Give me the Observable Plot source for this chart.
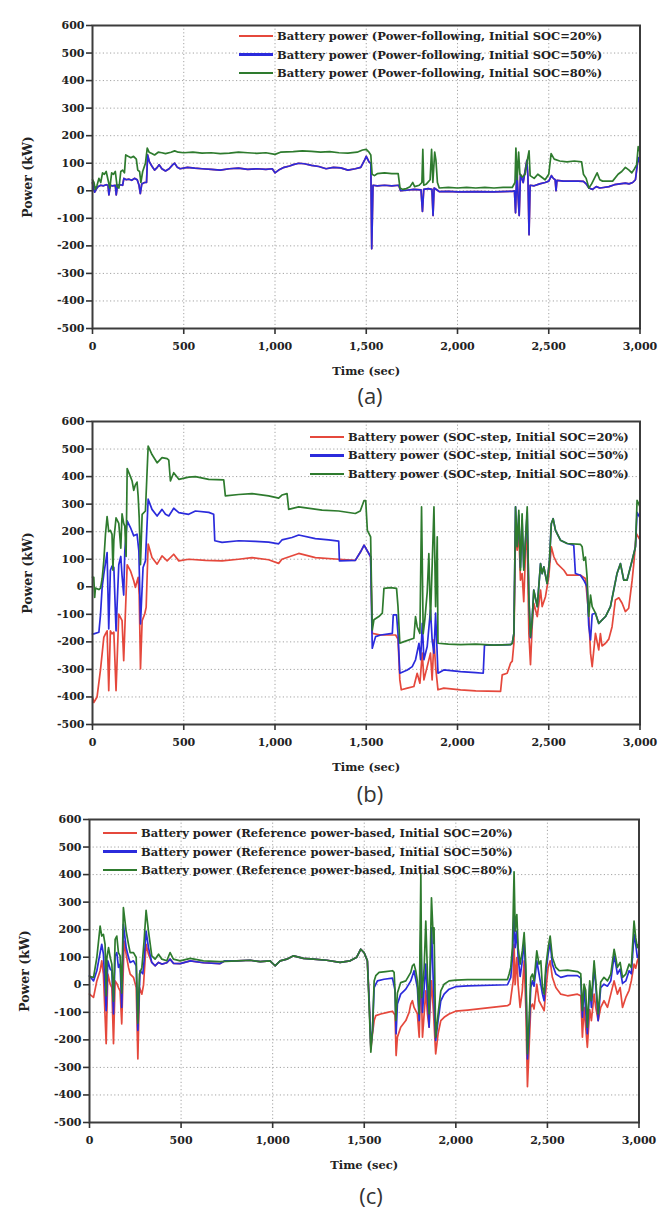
<!DOCTYPE html>
<html><head><meta charset="utf-8">
<script src="https://cdn.jsdelivr.net/npm/d3@7"></script>
<script src="https://cdn.jsdelivr.net/npm/@observablehq/plot@0.6"></script>
<style>
body{margin:0;background:#fff;width:672px;height:1226px;position:relative;overflow:hidden}
.panel{position:absolute;left:0;top:0}
.legend{position:absolute;font:bold 11.5px "DejaVu Serif";color:#222}
.legend .row{display:flex;align-items:center;white-space:nowrap}
.legend .sw{display:inline-block;width:34px;height:0;border-top:2px solid;margin-right:4px}
.cap{position:absolute;width:80px;text-align:center;font:22px "Open Sans";line-height:30px;color:#333}
</style></head>
<body>
<div id="pa" class="panel"></div>
<div id="pb" class="panel" style="top:396px"></div>
<div id="pc" class="panel" style="top:793.5px"></div>
<div class="cap" style="left:330px;top:380px">(a)</div>
<div class="cap" style="left:330px;top:778px">(b)</div>
<div class="cap" style="left:331px;top:1180px">(c)</div>
<script>
// ---------- axes ----------
const xTicks = [0, 500, 1000, 1500, 2000, 2500, 3000];
const yTicks = [-500, -400, -300, -200, -100, 0, 100, 200, 300, 400, 500, 600];
const seriesColors = ["#e5483c", "#2b2bdc", "#2e7b2e"];

// ---------- panel (a): Power-following ----------
const aLabels = [
  "Battery power (Power-following, Initial SOC=20%)",
  "Battery power (Power-following, Initial SOC=50%)",
  "Battery power (Power-following, Initial SOC=80%)"
];
const aBlue50 = [[0,30],[5,10],[12,-5],[20,5],[30,15],[45,20],[60,18],[75,22],[85,20],[90,-15],[97,20],[110,18],[125,20],[130,-15],[137,20],[150,22],[165,20],[172,45],[185,40],[200,42],[215,38],[230,45],[245,40],[255,20],[262,-10],[270,25],[285,30],[296,30],[302,130],[312,105],[325,90],[340,75],[355,85],[365,95],[380,80],[400,72],[420,80],[440,95],[450,100],[465,85],[480,80],[520,85],[560,82],[600,80],[650,78],[700,75],[750,80],[800,82],[850,78],[900,80],[950,78],[985,80],[1000,65],[1020,75],[1050,85],[1080,90],[1100,95],[1130,100],[1160,98],[1200,92],[1240,88],[1280,80],[1320,85],[1360,83],[1400,75],[1440,80],[1470,85],[1490,110],[1500,125],[1515,105],[1525,100],[1530,-210],[1537,20],[1560,18],[1600,20],[1640,18],[1678,20],[1688,0],[1720,2],[1760,5],[1800,3],[1808,-75],[1815,5],[1840,8],[1860,5],[1866,-90],[1872,10],[1890,2],[1900,-3],[1950,-2],[2000,-4],[2100,-3],[2200,-4],[2300,-2],[2312,0],[2318,-80],[2325,80],[2332,-20],[2338,-90],[2345,60],[2360,30],[2380,110],[2386,50],[2392,-160],[2398,20],[2420,18],[2450,25],[2480,30],[2500,35],[2515,55],[2525,45],[2535,40],[2540,0],[2545,38],[2580,35],[2620,35],[2660,35],[2690,34],[2705,25],[2720,10],[2740,5],[2760,15],[2780,10],[2800,12],[2830,15],[2860,22],[2890,25],[2920,28],[2940,25],[2960,30],[2975,40],[2990,120],[3000,100]];
// in this strategy the 20% curve lies exactly under the 50% curve
const aRed20 = aBlue50;
const aGreen80 = [[0,40],[8,30],[15,5],[25,20],[35,45],[45,30],[55,65],[65,60],[75,70],[85,40],[95,10],[105,65],[115,60],[125,70],[135,15],[145,10],[155,70],[165,75],[175,65],[182,130],[195,125],[210,120],[225,125],[240,115],[248,75],[258,70],[265,30],[275,70],[290,100],[300,155],[310,140],[325,135],[340,130],[360,140],[380,138],[400,135],[430,140],[450,145],[470,140],[500,138],[550,140],[600,137],[650,138],[700,135],[750,137],[800,140],[850,138],[900,136],[950,138],[1000,132],[1030,140],[1100,142],[1150,145],[1200,143],[1250,140],[1300,142],[1350,138],[1400,137],[1450,140],[1480,148],[1500,150],[1515,140],[1525,130],[1532,60],[1545,55],[1560,62],[1600,65],[1640,62],[1675,62],[1685,10],[1700,5],[1720,8],[1740,15],[1755,30],[1765,15],[1790,20],[1805,30],[1810,150],[1815,20],[1830,25],[1850,40],[1858,150],[1865,30],[1875,140],[1882,110],[1890,30],[1900,10],[1950,12],[2000,10],[2050,12],[2100,10],[2150,12],[2200,10],[2250,12],[2300,12],[2315,30],[2320,155],[2327,40],[2335,140],[2342,60],[2355,50],[2370,60],[2385,120],[2392,145],[2398,55],[2420,45],[2440,60],[2460,50],[2480,40],[2500,60],[2513,135],[2530,115],[2560,108],[2600,105],[2640,108],[2680,105],[2690,60],[2705,45],[2720,10],[2735,25],[2750,45],[2765,65],[2780,40],[2795,35],[2820,35],[2850,35],[2880,60],[2900,70],[2920,85],[2940,75],[2955,65],[2970,80],[2982,95],[2990,160],[3000,140]];

// ---------- panel (b): SOC-step ----------
const bLabels = [
  "Battery power (SOC-step, Initial SOC=20%)",
  "Battery power (SOC-step, Initial SOC=50%)",
  "Battery power (SOC-step, Initial SOC=80%)"
];
const bRed20 = [[0,-400],[7,-420],[25,-400],[44,-300],[62,-184],[71,-171],[80,-160],[89,-377],[98,-160],[107,-171],[117,-165],[129,-377],[144,-99],[162,-123],[171,-268],[180,-100],[190,80],[208,58],[226,22],[235,-2],[250,34],[256,-30],[263,-298],[272,-123],[286,-99],[294,-75],[305,155],[326,106],[354,82],[381,112],[409,94],[445,118],[473,94],[527,100],[620,96],[710,94],[800,100],[874,106],[965,98],[1020,85],[1038,100],[1130,121],[1221,106],[1349,100],[1440,96],[1469,127],[1488,151],[1524,109],[1533,-169],[1579,-175],[1661,-175],[1674,-190],[1684,-338],[1692,-374],[1725,-368],[1761,-362],[1779,-314],[1794,-350],[1807,-241],[1816,-338],[1834,-290],[1852,-241],[1861,-338],[1871,-193],[1880,-290],[1893,-374],[1925,-368],[2017,-374],[2100,-378],[2236,-380],[2245,-320],[2272,-314],[2291,-277],[2300,-270],[2309,-205],[2318,205],[2327,133],[2336,193],[2345,24],[2354,48],[2363,-54],[2373,133],[2382,181],[2391,-169],[2400,-283],[2409,-145],[2418,-60],[2437,-108],[2455,-12],[2464,-72],[2482,-36],[2500,36],[2514,145],[2528,109],[2546,84],[2583,60],[2601,42],[2674,42],[2701,30],[2719,-100],[2729,-241],[2738,-290],[2756,-169],[2774,-229],[2783,-170],[2792,-215],[2811,-205],[2829,-190],[2847,-145],[2865,-48],[2884,-40],[2902,-60],[2920,-90],[2938,-78],[2957,24],[2966,84],[2980,193],[3000,170]];
const bBlue50 = [[0,-171],[7,-171],[35,-165],[44,-100],[53,0],[62,46],[80,124],[89,-153],[98,60],[107,75],[117,70],[129,-160],[144,80],[155,110],[162,40],[171,-30],[177,130],[190,239],[208,215],[226,185],[244,191],[254,130],[263,-135],[277,70],[290,94],[305,318],[326,281],[354,257],[381,281],[400,263],[418,257],[445,285],[473,269],[527,263],[564,275],[637,270],[664,263],[670,167],[710,161],[801,167],[892,165],[965,162],[1020,156],[1038,170],[1093,179],[1130,188],[1221,175],[1294,170],[1349,166],[1353,94],[1440,96],[1469,127],[1488,151],[1524,109],[1533,-223],[1551,-181],[1579,-175],[1643,-169],[1648,-102],[1666,-102],[1674,-170],[1684,-314],[1725,-302],[1752,-290],[1770,-265],[1789,-205],[1798,-265],[1807,-133],[1816,-265],[1834,-217],[1852,-84],[1861,-193],[1871,-241],[1880,-96],[1893,-314],[1925,-302],[2017,-308],[2100,-312],[2141,-314],[2148,-211],[2200,-212],[2291,-210],[2300,-205],[2309,-169],[2318,290],[2327,150],[2336,260],[2345,70],[2354,240],[2363,70],[2373,170],[2382,270],[2391,-40],[2400,-185],[2409,-120],[2418,-12],[2437,-72],[2455,84],[2464,48],[2473,72],[2491,12],[2504,96],[2514,229],[2524,247],[2537,205],[2564,169],[2601,157],[2637,151],[2646,48],[2674,42],[2692,24],[2710,0],[2719,-140],[2729,-193],[2738,-100],[2756,-96],[2774,-133],[2811,-108],[2838,-72],[2856,-12],[2874,48],[2893,84],[2911,24],[2929,24],[2957,96],[2975,145],[2984,270],[3000,250]];
const bGreen80 = [[0,35],[7,34],[12,-39],[16,-5],[35,-10],[44,-5],[53,30],[62,94],[71,190],[80,255],[89,200],[98,205],[107,190],[112,60],[117,170],[129,250],[144,230],[155,140],[162,265],[171,230],[177,220],[184,110],[190,429],[208,400],[217,384],[226,350],[235,370],[244,380],[250,330],[256,250],[263,80],[272,263],[290,275],[305,511],[326,480],[354,450],[381,469],[409,465],[418,460],[427,384],[445,414],[473,390],[527,398],[564,400],[637,390],[719,388],[728,330],[801,335],[874,338],[965,330],[1020,322],[1038,333],[1066,338],[1075,281],[1130,290],[1258,278],[1349,275],[1440,266],[1467,275],[1488,313],[1497,313],[1506,205],[1524,181],[1533,-157],[1542,-120],[1569,-108],[1588,-96],[1597,-6],[1633,-3],[1666,-6],[1674,-72],[1684,-205],[1707,-199],[1761,-187],[1770,-108],[1779,-145],[1794,-169],[1803,290],[1812,-170],[1821,-120],[1834,-20],[1843,120],[1852,-120],[1871,290],[1880,-72],[1889,181],[1893,-205],[1950,-208],[2017,-210],[2100,-208],[2200,-212],[2291,-210],[2300,-205],[2309,-169],[2318,290],[2327,145],[2336,277],[2345,60],[2354,265],[2363,60],[2373,180],[2382,290],[2391,-36],[2400,-181],[2409,-120],[2418,-12],[2437,-72],[2455,84],[2464,48],[2473,72],[2491,12],[2504,96],[2514,229],[2524,247],[2537,205],[2564,169],[2601,157],[2674,154],[2683,145],[2692,96],[2701,108],[2710,36],[2719,-108],[2729,-30],[2738,-72],[2756,-96],[2774,-133],[2811,-108],[2838,-72],[2856,-12],[2874,48],[2893,84],[2911,24],[2929,24],[2957,96],[2975,145],[2984,314],[3000,290]];

// ---------- panel (c): Reference power-based ----------
const cLabels = [
  "Battery power (Reference power-based, Initial SOC=20%)",
  "Battery power (Reference power-based, Initial SOC=50%)",
  "Battery power (Reference power-based, Initial SOC=80%)"
];
// cruise segment where all three curves coincide
const cMid = [[804,87],[877,89],[932,84],[986,87],[1013,69],[1041,87],[1077,93],[1114,105],[1168,96],[1223,93],[1295,89],[1368,81],[1423,87],[1459,100],[1481,129],[1499,117],[1517,87]];
const cGreenStart = [[0,30],[22,27],[40,99],[58,213],[67,177],[76,183],[85,147],[91,-40],[95,99],[104,135],[113,99],[122,75],[131,-60],[140,165],[149,177],[158,117],[167,105],[176,-30],[185,280],[200,195],[213,147],[222,117],[240,117],[255,99],[264,-140],[273,39],[286,63],[298,159],[309,270],[322,195],[340,105],[358,93],[377,111],[395,93],[422,87],[440,117],[458,93],[495,87],[550,96],[622,87],[713,84]];
const cGreenEnd = [[1527,-82],[1536,-245],[1545,-166],[1554,14],[1563,33],[1581,45],[1617,48],[1654,51],[1663,45],[1668,-22],[1672,-130],[1681,-30],[1699,8],[1727,14],[1754,45],[1763,69],[1772,75],[1781,51],[1790,14],[1800,-106],[1809,400],[1814,-46],[1827,60],[1836,231],[1845,40],[1854,-106],[1867,316],[1878,150],[1881,207],[1890,-190],[1903,-106],[1918,-22],[1936,2],[1963,14],[1999,17],[2064,19],[2173,19],[2282,19],[2291,39],[2300,63],[2309,135],[2318,410],[2324,195],[2333,255],[2340,135],[2351,75],[2363,123],[2373,189],[2382,75],[2391,-250],[2400,-130],[2409,27],[2418,39],[2427,14],[2442,123],[2454,75],[2464,87],[2473,-10],[2482,-34],[2491,63],[2504,135],[2515,177],[2527,99],[2546,63],[2564,51],[2610,53],[2664,48],[2682,40],[2691,-94],[2700,2],[2709,-20],[2718,-154],[2731,14],[2740,-58],[2755,87],[2764,14],[2777,-106],[2791,10],[2809,27],[2828,14],[2846,39],[2864,129],[2873,99],[2882,63],[2897,81],[2910,27],[2928,39],[2946,75],[2958,63],[2973,231],[2982,171],[2991,135],[3000,150]];
const cBlueStart = [[0,33],[22,14],[40,51],[58,117],[67,147],[76,111],[91,-94],[100,87],[113,57],[122,51],[131,-106],[140,105],[149,117],[158,63],[167,75],[176,-82],[185,219],[200,135],[213,99],[222,81],[240,87],[255,69],[264,-166],[276,51],[291,40],[298,87],[309,195],[322,135],[340,81],[358,69],[377,81],[395,75],[422,80],[440,93],[458,78],[495,77],[550,87],[622,80],[713,77],[740,87]];
const cBlueEnd = [[1527,-60],[1536,-227],[1545,-166],[1554,-10],[1572,14],[1608,20],[1654,24],[1668,-20],[1674,-178],[1681,-70],[1699,-34],[1727,-16],[1754,14],[1772,51],[1790,-10],[1800,-130],[1809,195],[1818,-100],[1836,75],[1845,-46],[1854,-154],[1867,207],[1878,-10],[1890,-202],[1903,-130],[1918,-58],[1936,-34],[1963,-16],[1999,-7],[2064,-4],[2282,0],[2300,27],[2309,99],[2318,255],[2324,135],[2333,195],[2340,100],[2351,30],[2363,87],[2373,159],[2382,30],[2391,-269],[2400,-166],[2409,-10],[2418,14],[2427,-5],[2442,87],[2454,40],[2473,-34],[2482,-58],[2491,39],[2504,111],[2515,153],[2527,75],[2546,39],[2573,27],[2610,33],[2664,33],[2682,24],[2691,-118],[2700,-10],[2718,-178],[2731,0],[2740,-82],[2755,63],[2764,0],[2777,-130],[2791,-10],[2809,2],[2828,-5],[2846,14],[2864,105],[2873,75],[2882,39],[2897,57],[2910,5],[2928,14],[2946,51],[2958,40],[2973,183],[2982,147],[2991,99],[3000,110]];
const cRedStart = [[0,-34],[22,-46],[40,14],[58,51],[67,87],[76,39],[91,-214],[100,39],[113,2],[122,-10],[131,-214],[140,14],[149,5],[158,-10],[167,-22],[176,-142],[189,159],[200,111],[213,63],[222,39],[240,27],[255,-10],[264,-269],[273,-10],[286,-34],[295,0],[309,147],[322,111],[340,81],[358,69],[377,81],[395,75],[422,80],[440,93],[458,78],[495,77],[550,87],[622,80],[713,77],[740,87]];
const cRedEnd = [[1527,-60],[1536,-233],[1545,-178],[1554,-130],[1563,-112],[1590,-106],[1627,-100],[1654,-96],[1668,-110],[1674,-257],[1681,-190],[1699,-154],[1727,-130],[1745,-100],[1754,-70],[1763,-58],[1772,-82],[1790,-106],[1800,-190],[1809,63],[1818,-190],[1836,-22],[1845,-106],[1854,-154],[1867,14],[1878,-100],[1890,-251],[1903,-178],[1918,-130],[1936,-118],[1963,-106],[1999,-96],[2064,-92],[2173,-84],[2282,-76],[2296,-70],[2303,-34],[2313,14],[2318,147],[2324,0],[2333,99],[2340,0],[2351,-82],[2363,-22],[2373,87],[2382,-82],[2391,-370],[2400,-227],[2409,-82],[2418,-70],[2427,-88],[2442,2],[2454,-58],[2473,-82],[2482,-94],[2491,-22],[2504,63],[2515,87],[2527,27],[2546,-10],[2573,-34],[2610,-40],[2664,-34],[2682,-40],[2691,-190],[2700,-82],[2718,-227],[2731,-90],[2740,-130],[2755,-34],[2764,-82],[2777,-130],[2791,-82],[2809,-58],[2828,-82],[2846,-34],[2864,14],[2873,-10],[2882,-34],[2897,-10],[2910,-82],[2928,-46],[2946,-20],[2958,14],[2973,75],[2982,60],[2991,87],[3000,100]];

const cRed20 = cRedStart.concat(cMid, cRedEnd);
const cBlue50 = cBlueStart.concat(cMid, cBlueEnd);
const cGreen80 = cGreenStart.concat(cMid, cGreenEnd);

// ---------- drawing ----------
const font = "DejaVu Serif";
function panel(seriesList, ml, mr) {
  const marks = [
    Plot.gridX(xTicks, {stroke: "#9a9a9a", strokeOpacity: 1, strokeWidth: 0.9, strokeDasharray: "1.2,2.4"}),
    Plot.gridY(yTicks, {stroke: "#9a9a9a", strokeOpacity: 1, strokeWidth: 0.9, strokeDasharray: "1.2,2.4"})
  ];
  seriesList.forEach((vals, i) => {
    marks.push(Plot.line(vals, {x: d => d[0], y: d => d[1], stroke: seriesColors[i], strokeWidth: 1.7, strokeLinejoin: "round"}));
  });
  marks.push(
    Plot.frame({stroke: "#3c3c3c", strokeWidth: 2}),
    Plot.axisX(xTicks, {tickSize: 6, tickPadding: 8, tickFormat: d3.format(","), label: null, fontWeight: "bold", stroke: "#333", strokeWidth: 1.6}),
    Plot.axisY(yTicks, {tickSize: 6, tickPadding: 2, tickFormat: d => String(d), label: null, fontWeight: "bold", stroke: "#333", strokeWidth: 1.6}),
    Plot.text(["Time (sec)"], {text: d => d, frameAnchor: "bottom", dy: 43, textAnchor: "middle", lineAnchor: "middle", fontSize: 11.5, fontWeight: "bold"}),
    Plot.text(["Power (kW)"], {text: d => d, frameAnchor: "left", dx: -65, rotate: -90, textAnchor: "middle", lineAnchor: "middle", fontSize: 12.5, fontWeight: "bold"})
  );
  return Plot.plot({
    width: 672, height: 383,
    marginLeft: ml, marginRight: mr, marginTop: 25, marginBottom: 55,
    style: {fontFamily: font, fontSize: "11px", fontWeight: "bold", color: "#222", background: "transparent", overflow: "visible"},
    x: {domain: [0, 3000]},
    y: {domain: [-500, 600]},
    marks
  });
}
function legend(labels, left, top, rowH) {
  const div = document.createElement("div");
  div.className = "legend";
  div.style.left = left + "px";
  div.style.top = top + "px";
  labels.forEach((lab, i) => {
    const row = document.createElement("div");
    row.className = "row";
    row.style.height = rowH + "px";
    const sw = document.createElement("span");
    sw.className = "sw";
    sw.style.borderColor = seriesColors[i];
    if (i === 1) sw.style.borderTopWidth = "3px";
    const tx = document.createElement("span");
    tx.textContent = lab;
    row.append(sw, tx);
    div.append(row);
  });
  document.body.append(div);
}
document.getElementById("pa").append(panel([aRed20, aBlue50, aGreen80], 92, 32.5));
document.getElementById("pb").append(panel([bRed20, bBlue50, bGreen80], 92, 32.5));
document.getElementById("pc").append(panel([cRed20, cBlue50, cGreen80], 89, 33.5));
legend(aLabels, 239, 27.3, 18.3);
legend(bLabels, 310, 427.7, 18.5);
legend(cLabels, 103, 823.5, 18.8);
</script>
</body></html>
